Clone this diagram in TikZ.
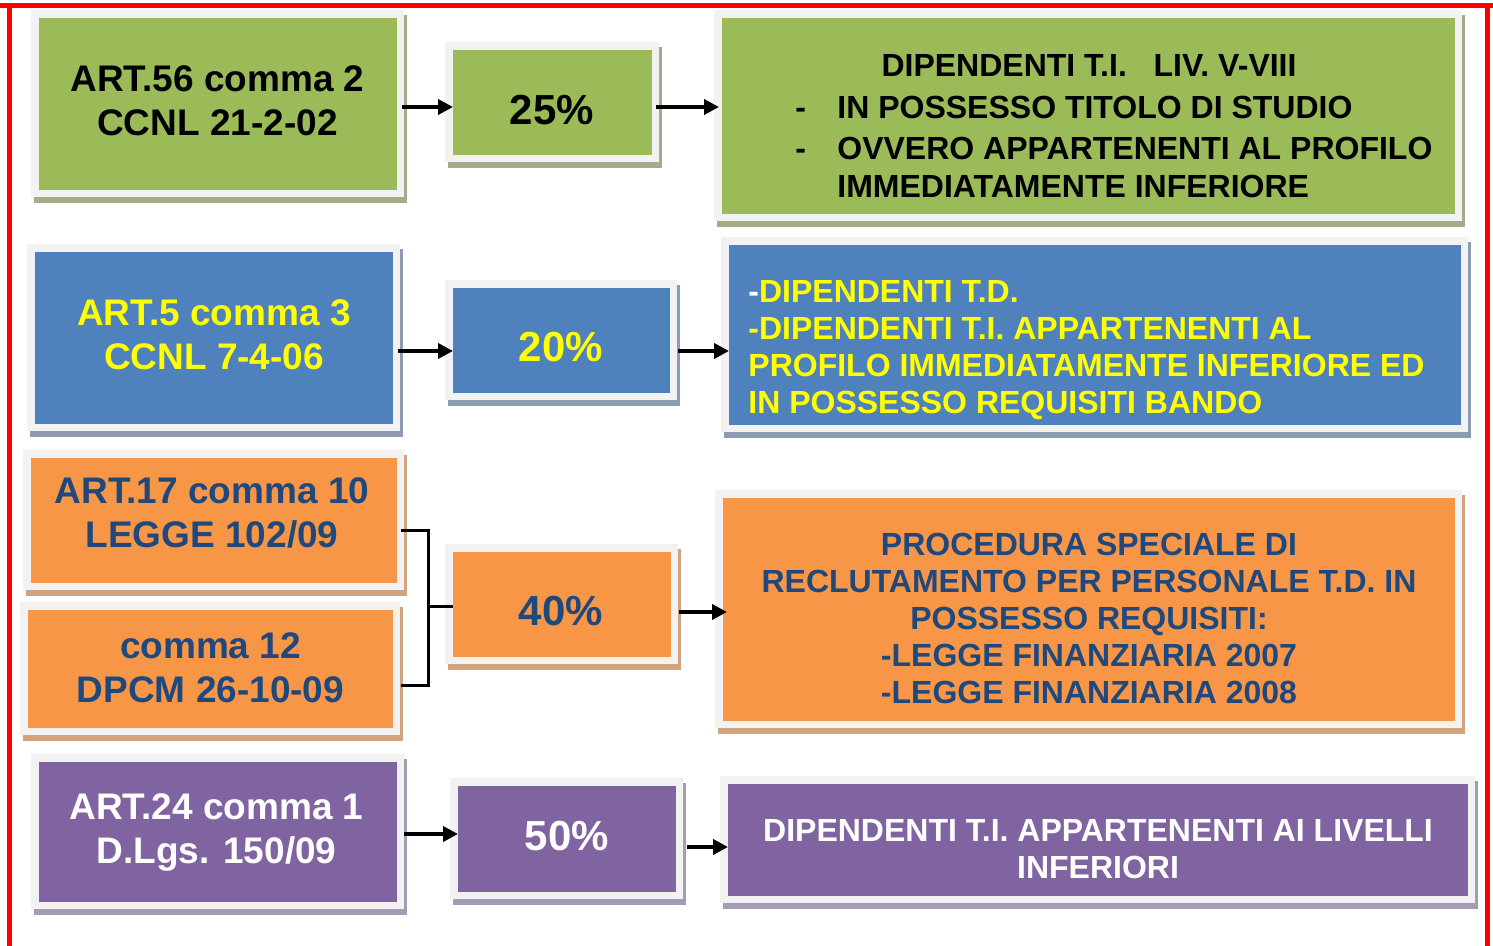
\documentclass[tikz,border=0pt]{standalone}
\usepackage{fontspec}
\setmainfont{Liberation Sans}
\usetikzlibrary{arrows.meta,fit}
\definecolor{gfill}{HTML}{9BBB59}
\definecolor{gsh}{HTML}{A3AC8A}
\definecolor{bfill}{HTML}{4F81BD}
\definecolor{bsh}{HTML}{8E9CB3}
\definecolor{ofill}{HTML}{F79646}
\definecolor{osh}{HTML}{D2A37F}
\definecolor{pfill}{HTML}{8064A2}
\definecolor{psh}{HTML}{A69CB3}
\definecolor{framegray}{HTML}{F2F2F2}
\definecolor{dblue}{HTML}{1F497D}
\definecolor{yel}{HTML}{FFFF00}
\definecolor{redline}{HTML}{FF0000}
% #1 name, #2 x1, #3 y1, #4 x2, #5 y2 (inner rectangle, px), #6 fill, #7 shadow
\newcommand\mypanel[7]{%
  \fill[#7] (#2-5,#3-3) rectangle (#4+10,#5+13);
  \fill[framegray] (#2-8,#3-8) rectangle (#4+7,#5+7);
  \node[inner sep=0pt, outer sep=0pt, fill=#6, fit={(#2,#3) (#4,#5)}] (#1) {};
}
\begin{document}
\begin{tikzpicture}[x=0.5pt,y=-0.5pt,
  arr/.style={line width=2pt, shorten <=2.5pt, -{Triangle[length=7.5pt,width=7.5pt]}},
  brk/.style={line width=1.5pt, line join=miter},
  lbl/.style={font=\bfseries\fontsize{18.5}{22}\selectfont, align=center, inner sep=0pt},
  pct/.style={font=\bfseries\fontsize{21}{25}\selectfont, inner sep=0pt},
  rt/.style={font=\bfseries\fontsize{16}{18.5}\selectfont, align=center, inner sep=0pt}]
\useasboundingbox (0,0) rectangle (1493,946);
\fill[white] (0,0) rectangle (1493,946);
% red frame
\draw[redline, line width=2.5pt] (0,5.5) -- (1493,5.5);
\draw[redline, line width=2.5pt] (9.5,946) -- (9.5,5.5);
\draw[redline, line width=2.5pt] (1487.5,946) -- (1487.5,5.5);

% row 1
\mypanel{a1}{39}{18}{397}{190}{gfill}{gsh}
\mypanel{p1}{453}{50}{652}{155}{gfill}{gsh}
\mypanel{r1}{722}{18}{1455}{214}{gfill}{gsh}
% row 2
\mypanel{a2}{35}{252}{393}{424}{bfill}{bsh}
\mypanel{p2}{453}{288}{670}{393}{bfill}{bsh}
\mypanel{r2}{729}{245}{1461}{425}{bfill}{bsh}
% row 3
\mypanel{a3}{31}{458}{397}{583}{ofill}{osh}
\mypanel{b3}{28}{610}{393}{728}{ofill}{osh}
\mypanel{p3}{453}{552}{671}{657}{ofill}{osh}
\mypanel{r3}{723}{498}{1455}{721}{ofill}{osh}
% row 4
\mypanel{a4}{39}{762}{397}{902}{pfill}{psh}
\mypanel{p4}{458}{786}{676}{892}{pfill}{psh}
\mypanel{r4}{728}{784}{1468}{896}{pfill}{psh}

% texts
\node[lbl, text=black] (ta1) at (217.5,100.5) {ART.56 comma 2\\CCNL 21-2-02};
\node[pct, text=black] (tp1) at (552,110) {25\%};
\node[rt, text=black] (tr1a) at (1089,65) {DIPENDENTI T.I.\ \ \ LIV. V-VIII};
\node[rt, text=black, anchor=west, align=left, font=\bfseries\fontsize{16}{19}\selectfont] (tr1b) at (795,147)
  {\makebox[21pt][l]{-}IN POSSESSO TITOLO DI STUDIO\\[1.5pt]\makebox[21pt][l]{-}OVVERO APPARTENENTI AL PROFILO\\\hspace*{21pt}IMMEDIATAMENTE INFERIORE};

\node[lbl, text=yel] (ta2) at (214,334.5) {ART.5 comma 3\\CCNL 7-4-06};
\node[pct, text=yel] (tp2) at (561,347) {20\%};
\node[rt, text=yel, anchor=west, align=left] (tr2) at (748,350)
  {{\color{white}-}DIPENDENTI T.D.\\-DIPENDENTI T.I. APPARTENENTI AL\\PROFILO IMMEDIATAMENTE INFERIORE ED\\IN POSSESSO REQUISITI BANDO};

\node[lbl, text=dblue] (ta3) at (212,512.5) {ART.17 comma 10\\LEGGE 102/09};
\node[lbl, text=dblue] (tb3) at (210.5,667.5) {comma 12\\DPCM 26-10-09};
\node[pct, text=dblue] (tp3) at (561,611) {40\%};
\node[rt, text=dblue] (tr3) at (1089,618.5)
  {PROCEDURA SPECIALE DI\\RECLUTAMENTO PER PERSONALE T.D. IN\\POSSESSO REQUISITI:\\-LEGGE FINANZIARIA 2007\\-LEGGE FINANZIARIA 2008};

\node[lbl, text=white] (ta4) at (216.5,832) {ART.24 comma 1\\D.Lgs. 150/09};
\node[pct, text=white] (tp4) at (567,836) {50\%};
\node[rt, text=white] (tr4) at (1098,849.5) {DIPENDENTI T.I. APPARTENENTI AI LIVELLI\\INFERIORI};

% connector levels
\coordinate (L1) at (0,107);
\coordinate (L2) at (0,351);
\coordinate (L3) at (0,612);
\coordinate (L4a) at (0,834);
\coordinate (L4b) at (0,847);
\coordinate (U3) at (0,530);
\coordinate (D3) at (0,685);
\coordinate (bx) at (428,606);

\draw[arr] (a1.east |- L1) -- (p1.west |- L1);
\draw[arr, shorten <=2pt] (p1.east |- L1) -- ([xshift=-1.5pt]r1.west |- L1);
\draw[arr] (a2.east |- L2) -- (p2.west |- L2);
\draw[arr, shorten <=4pt] (p2.east |- L2) -- (r2.west |- L2);
\draw[brk, shorten <=2pt, shorten >=4pt] (a3.east |- U3) -| (bx) |- (b3.east |- D3);
\draw[brk] (bx) -- (p3.west |- bx);
\draw[arr, shorten <=4pt] (p3.east |- L3) -- ([xshift=2pt]r3.west |- L3);
\draw[arr, shorten <=3.5pt] (a4.east |- L4a) -- (p4.west |- L4a);
\draw[arr, shorten <=5.5pt] (p4.east |- L4b) -- (r4.west |- L4b);
\end{tikzpicture}
\end{document}
